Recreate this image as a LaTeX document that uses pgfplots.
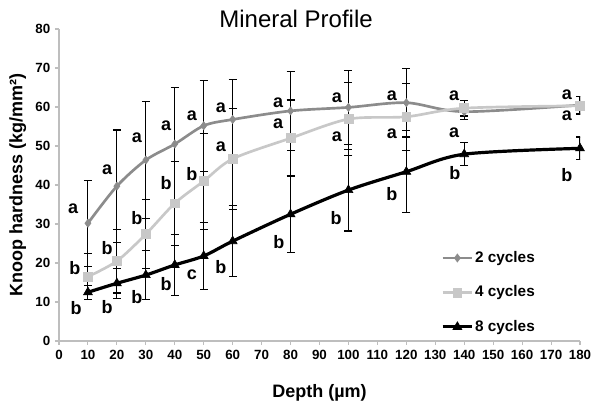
\documentclass[border=0pt]{standalone}
\usepackage{fontspec}
\setmainfont{Liberation Sans}
\usepackage{pgfplots}
\usepackage{pgfplotstable}
\pgfplotsset{compat=1.18}

\definecolor{cTwo}{RGB}{140,140,140}
\definecolor{cFour}{RGB}{200,200,200}
\definecolor{axgray}{RGB}{190,190,190}

\pgfplotstableread{
x y err
10 30.2 11.0
20 39.7 14.4
30 46.4 15.0
40 50.5 14.4
50 55.2 11.7
60 56.8 10.2
80 59.0 10.2
100 59.9 9.4
120 61.1 8.8
140 58.8 1.9
180 60.5 2.3
}\twocyc

\pgfplotstableread{
x y err
10 16.5 5.9
20 20.5 8.2
30 27.4 8.8
40 35.3 10.8
50 41.0 12.3
60 46.7 12.9
80 52.0 9.8
100 56.9 9.4
120 57.5 8.6
140 59.7 2.0
180 60.3 2.3
}\fourcyc

\pgfplotstableread{
x y err
10 12.5 1.8
20 14.8 3.8
30 16.9 6.3
40 19.5 7.9
50 21.8 8.5
60 25.6 9.1
80 32.5 9.8
100 38.7 10.5
120 43.4 10.5
140 47.9 2.9
180 49.4 2.9
}\eightcyc

\pgfplotstableread{
x y lab
4.9 33.8 a
16.6 43.8 a
26.9 52.0 a
37.0 55.1 a
45.9 57.7 a
55.9 59.7 a
75.7 61.0 a
96.0 62.3 a
115.0 62.8 a
136.5 62.8 a
175.5 63.1 a
5.5 18.7 b
16.6 23.8 b
26.9 31.5 b
37.0 40.5 b
45.9 42.8 b
55.9 49.7 a
75.7 55.6 a
96.0 52.3 a
115.0 53.1 a
136.5 53.3 a
175.5 57.7 a
5.9 8.5 b
16.6 8.7 b
26.9 11.3 b
37.0 14.6 b
45.9 16.9 c
55.9 19.0 b
76.0 25.4 b
95.7 31.5 b
115.0 37.7 b
136.8 43.1 b
175.5 42.6 b
}\letters

\begin{document}
\begin{tikzpicture}
\path[use as bounding box] (-44.25pt,-48.75pt) rectangle (402.75pt,255.75pt);
\begin{axis}[
  at={(0,0)}, anchor=south west,
  scale only axis,
  width=390.75pt, height=234pt,
  xmin=0, xmax=180, ymin=0, ymax=80,
  xtick={0,10,...,180}, ytick={0,10,...,80},
  axis x line*=bottom, axis y line*=left,
  axis line style={axgray, line width=1pt, -},
  tick align=outside,
  major tick length=3pt,
  tick style={axgray, line width=0.8pt},
  /pgf/number format/assume math mode=true,
  tick label style={font=\bfseries\fontsize{10}{12}\selectfont, black},
  xlabel={\textbf{Depth (µm)}},
  ylabel={\textbf{Knoop hardness (kg/mm²)}},
  label style={font=\fontsize{13.5}{15}\selectfont},
  xlabel style={yshift=-12pt},
  ylabel style={yshift=0pt},
  title={Mineral Profile},
  title style={at={(rel axis cs:0.455,1)}, anchor=base, yshift=-5pt, font=\fontsize{18}{20}\selectfont},
  legend style={draw=none, fill=none, at={(rel axis cs:0.725,0.305)}, anchor=north west,
     font=\bfseries\fontsize{11.5}{13}\selectfont, row sep=12pt,
     nodes={inner xsep=1pt}},
  legend cell align=left,
  legend image code/.code={\draw[mark repeat=2,mark phase=2] plot coordinates {(0cm,0cm) (0.39cm,0cm) (0.78cm,0cm)};},
  error bars/y dir=both, error bars/y explicit,
  error bars/error bar style={black, line width=0.8pt},
  error bars/error mark options={rotate=90, black, mark size=3pt, line width=0.8pt},
]
\addplot[cTwo, line width=2pt, smooth, mark=diamond*, mark size=3pt, mark options={fill=cTwo, draw=cTwo, line width=0.5pt}]
  table[x=x, y=y, y error=err] {\twocyc};
\addlegendentry{2 cycles}
\addplot[cFour, line width=2pt, smooth, mark=square*, mark size=3.3pt, mark options={fill=cFour, draw=cFour, line width=0.5pt}]
  table[x=x, y=y, y error=err] {\fourcyc};
\addlegendentry{4 cycles}
\addplot[black, line width=2.4pt, smooth, mark=triangle*, mark size=3.8pt, mark options={fill=black, draw=black, line width=0.5pt}]
  table[x=x, y=y, y error=err] {\eightcyc};
\addlegendentry{8 cycles}
\addplot[draw=none, mark=none, forget plot, error bars/y dir=none,
  nodes near coords, point meta=explicit symbolic,
  nodes near coords align={center},
  every node near coord/.append style={font=\bfseries\fontsize{13.5}{14}\selectfont, black, inner sep=0pt}]
  table[x=x, y=y, meta=lab] {\letters};
\end{axis}
\end{tikzpicture}
\end{document}
